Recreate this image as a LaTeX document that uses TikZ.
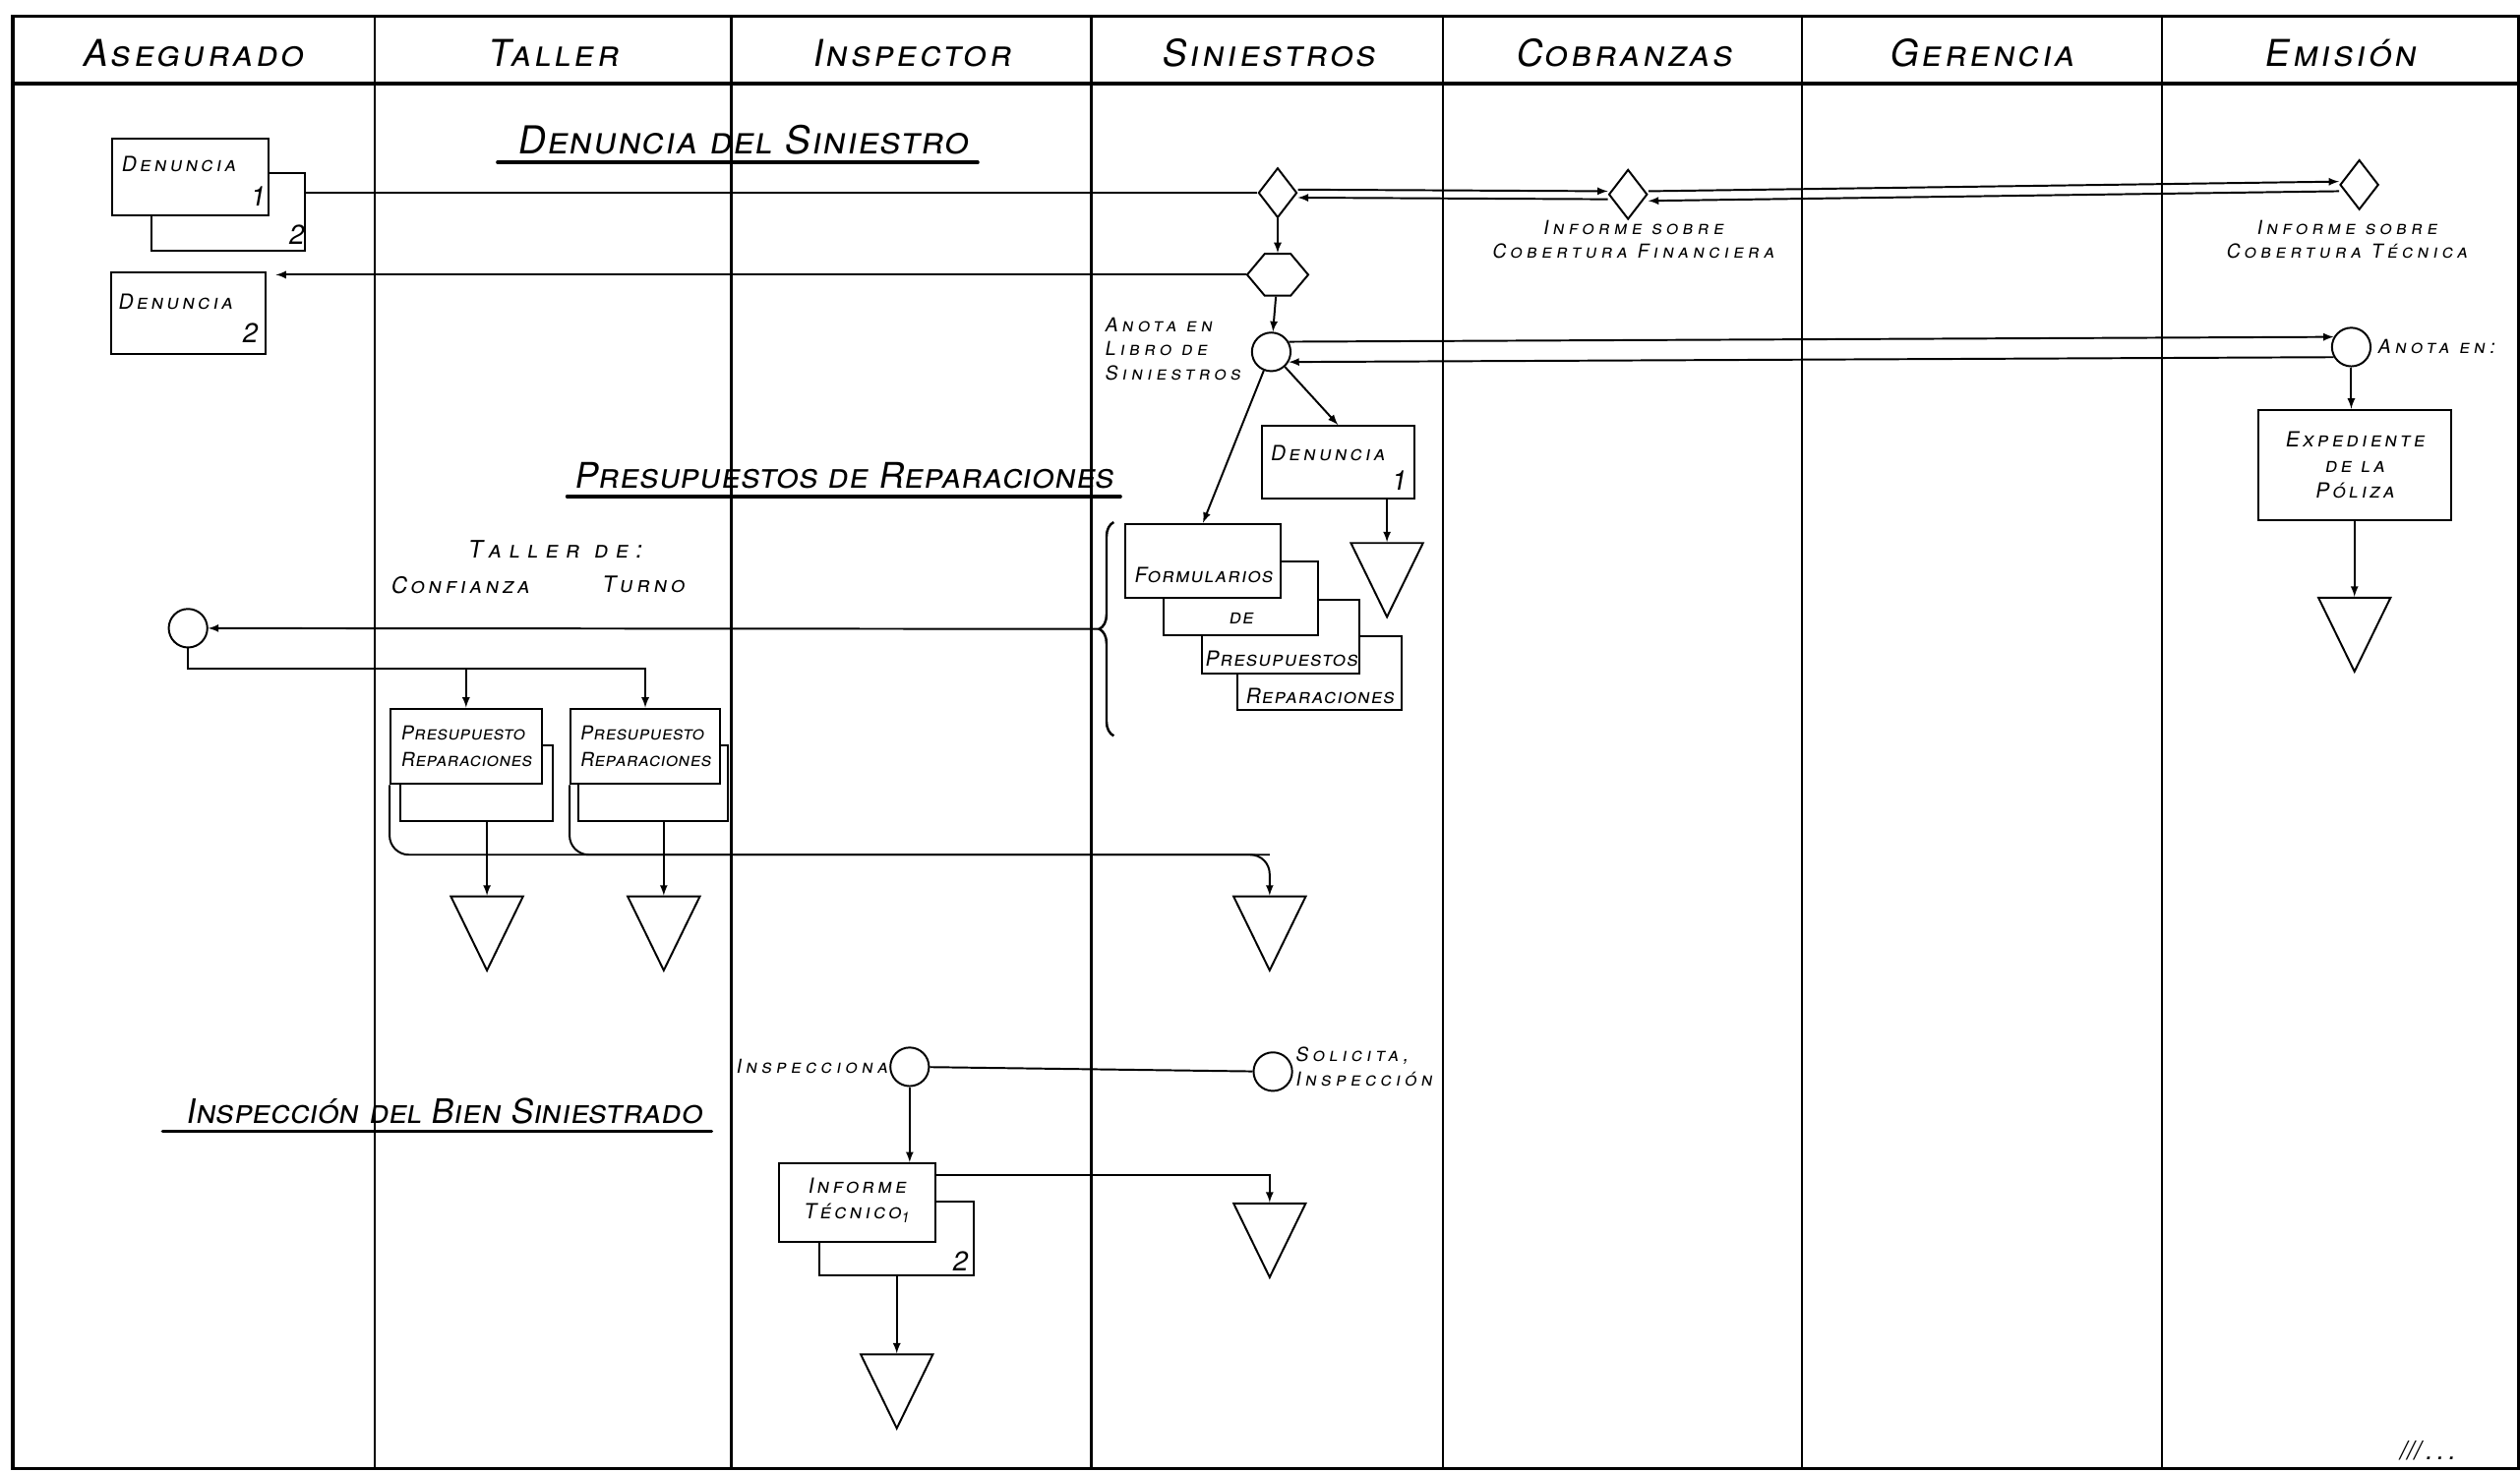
\documentclass[tikz,border=0pt]{standalone}
\usepackage{fontspec}
\newfontfamily\handfont{TeX Gyre Heros}[Letters=SmallCaps,FakeSlant=0.18]
\usetikzlibrary{shapes.geometric,shapes.symbols,decorations.pathreplacing}
\newcommand{\bignum}[1]{{\fontsize{17}{17}\selectfont #1}}

\begin{document}
\begin{tikzpicture}
[x=1pt,y=-1pt,>=latex,
  frameLine/.style={line width=2.2pt},
  laneLine/.style={line width=1.4pt},
  flowLine/.style={-,line width=1.2pt},
  flowArrow/.style={->,line width=1.2pt},
  underLine/.style={line width=2pt,line cap=round},
  headText/.style={font=\handfont\fontsize{23}{23}\selectfont\addfontfeature{LetterSpace=8}},
  titleText/.style={font=\handfont\fontsize{#1}{#1}\selectfont,inner sep=0pt},
  noteText/.style={font=\handfont\fontsize{12}{15}\selectfont\addfontfeature{LetterSpace=22},inner sep=1pt,align=center},
  labelText/.style={font=\handfont\fontsize{14}{16}\selectfont\addfontfeature{LetterSpace=16},inner sep=1pt},
  boxText/.style={font=\handfont\fontsize{13}{16}\selectfont\addfontfeature{LetterSpace=15},inner sep=0pt},
  formText/.style={font=\handfont\fontsize{13}{16}\selectfont\addfontfeature{LetterSpace=5},inner sep=0pt},
  tightText/.style={font=\handfont\fontsize{12}{16}\selectfont\addfontfeature{LetterSpace=2},inner sep=0pt},
  docBox/.style={shape=rectangle,draw,fill=white,line width=1.2pt,inner sep=0pt},
  opCircle/.style={shape=circle,draw,line width=1.2pt,minimum size=24pt,inner sep=0pt},
  checkDiamond/.style={shape=diamond,draw,line width=1.2pt,minimum width=24pt,minimum height=31pt,inner sep=0pt},
  hexNode/.style={shape=signal,signal to=east and west,signal pointer angle=100,draw,line width=1.2pt,minimum width=38pt,minimum height=26pt,inner sep=0pt},
  fileTri/.style={shape=isosceles triangle,shape border rotate=-90,isosceles triangle apex angle=52,draw,line width=1.2pt,minimum height=46pt,inner sep=0pt}]
\useasboundingbox (0,0) rectangle (1568,916);
%% frame and lanes
\draw[frameLine] (8,10) rectangle (1567,914);
\draw[frameLine] (8,52) -- (1567,52);
\foreach \x in {233,455,679,898,1121,1345}
{
  \draw[laneLine] (\x,10) -- (\x,914);
}
\foreach \i/\lname/\x in {1/Asegurado/120, 2/Taller/344, 3/Inspector/567,
  4/Siniestros/789, 5/Cobranzas/1010, 6/Gerencia/1233, 7/Emisión/1456}
{
  \node (head\i) at (\x,33) [headText] {\lname};
}

%% Denuncia del Siniestro
\node (tDen) at (462,96) [titleText=24,anchor=base] {\addfontfeature{LetterSpace=3}Denuncia del Siniestro};
\draw[underLine] ([xshift=-12pt,yshift=-5pt]tDen.base west) -- ([xshift=6pt,yshift=-5pt]tDen.base east);
\node (denA2copy) at (142,132) [docBox,minimum width=96pt,minimum height=48pt] {};
\node (denA2num) at (184,146) [boxText] {\bignum{2}};
\node (denA1) at (118.5,110) [docBox,minimum width=97pt,minimum height=48pt] {};
\node (denA1txt) at (75,102) [boxText,anchor=west] {Denuncia};
\node (denA1num) at (160,122) [boxText] {\bignum{1}};
\node (denB) at (117,195) [docBox,minimum width=96pt,minimum height=51pt] {};
\node (denBtxt) at (73,188) [boxText,anchor=west] {Denuncia};
\node (denBnum) at (155,207) [boxText] {\bignum{2}};
\node (dSin) at (795,120) [checkDiamond] {};
\node (dCob) at (1013,121) [checkDiamond] {};
\node (dEmi) at (1468,115) [checkDiamond] {};
\node (infoCob) at (1016,149) [noteText] {Informe sobre\\Cobertura Financiera};
\node (infoEmi) at (1460,149) [noteText] {Informe sobre\\Cobertura Técnica};
\node (hexSin) at (795,171) [hexNode] {};
\node (cSin) at (791,219) [opCircle] {};
\node (cSinTxt) at (686,217) [noteText,anchor=west,align=left] {Anota en\\Libro de\\Siniestros};
\node (cEmi) at (1463,216) [opCircle] {};
\node (cEmiTxt) at (1478,216) [noteText,anchor=west] {Anota en:};
\node (expBox) at (1465,289.5) [docBox,boxText,align=center,minimum width=120pt,minimum height=69pt] {Expediente\\de la\\Póliza};
\node (triEmi) at (1465,386) [fileTri] {};
\node (denC) at (832.5,287.5) [docBox,minimum width=95pt,minimum height=45pt] {};
\node (denCtxt) at (790,282) [boxText,anchor=west] {Denuncia};
\node (denCnum) at (870,299) [boxText] {\bignum{1}};
\node (triDen) at (863,352) [fileTri] {};
\draw[flowLine] (denA2copy.east |- dSin) -- (dSin);
\draw[flowArrow] ([yshift=2pt]dSin.east) -- ([yshift=2pt]dCob.west);
\draw[flowArrow] ([yshift=-3pt]dCob.west) -- ([yshift=-3pt]dSin.east);
\draw[flowArrow] ([yshift=2pt]dCob.east) -- ([yshift=2pt]dEmi.west);
\draw[flowArrow] ([yshift=-4pt]dEmi.west) -- ([yshift=-4pt]dCob.east);
\draw[flowArrow] (dSin) -- (hexSin);
\draw[flowArrow,shorten >=6pt] (hexSin) -- (hexSin -| denB.east);
\draw[flowArrow] (hexSin) -- (cSin);
\draw[flowArrow] (cSin.30) -- (cEmi.150);
\draw[flowArrow] (cEmi.210) -- (cSin.-30);
\draw[flowArrow] (cEmi) -- (cEmi |- expBox.north);
\draw[flowArrow] (expBox) -- (triEmi);
\draw[flowArrow] (cSin) -- (denC.north);
\draw[flowArrow] (triDen |- denC.south) -- (triDen);

%% Presupuestos de Reparaciones
\node (tPre) at (525,304) [titleText=22,anchor=base] {\addfontfeature{LetterSpace=1}Presupuestos de Reparaciones};
\draw[underLine] ([xshift=-4pt,yshift=-5pt]tPre.base west) -- ([xshift=4pt,yshift=-5pt]tPre.base east);
\foreach \n/\x/\y/\w/\ty/\txt in {4/821/419/102/433/Reparaciones,
  3/797/396.5/98/410/Presupuestos, 2/772/372.5/96/385/de, 1/748.5/349/97/358/Formularios}
{
  \node (form\n) at (\x,\y) [docBox,minimum width=\w,minimum height=46pt] {};
  \node (form\n txt) at (\x,\ty) [formText] {\txt};
}
\draw[flowArrow] (cSin) -- (form1.north);
\draw[flowLine,line width=1.5pt,decorate,decoration={brace,amplitude=9pt}] (693,458) -- (693,325);
\coordinate (braceTip) at (684,391.5);
\node (cAseg) at (117,391) [opCircle] {};
\draw[flowArrow] (braceTip) -- (cAseg);
\node (tallerDe) at (345,342) [labelText,font=\handfont\fontsize{15}{16}\selectfont\addfontfeature{LetterSpace=30}] {Taller de:};
\node (confianza) at (286,364) [labelText] {Confianza};
\node (turno) at (400,364) [labelText] {Turno};
\node (p1copy) at (296.5,487.5) [docBox,minimum width=95pt,minimum height=47pt] {};
\node (p1) at (290,464.5) [docBox,tightText,align=left,minimum width=94pt,minimum height=47pt] {Presupuesto\\Reparaciones};
\node (p2copy) at (406.5,487.5) [docBox,minimum width=93pt,minimum height=47pt] {};
\node (p2) at (401.5,464.5) [docBox,tightText,align=left,minimum width=93pt,minimum height=47pt] {Presupuesto\\Reparaciones};
\coordinate (splitY) at (117,416);
\draw[flowArrow] (cAseg) |- (p2.north |- splitY) -- (p2.north);
\draw[flowArrow] (p1.north |- splitY) -- (p1.north);
\node (triT1) at (303,572) [fileTri] {};
\node (triT2) at (413,572) [fileTri] {};
\node (triS) at (790,572) [fileTri] {};
\draw[flowArrow] (triT1 |- p1copy.south) -- (triT1);
\draw[flowArrow] (triT2 |- p2copy.south) -- (triT2);
\coordinate (joinY) at (0,532);
\draw[flowArrow,rounded corners=12pt] (p1.south west) |- (triS |- joinY) -- (triS);
\draw[flowLine,rounded corners=12pt] (p2.south west) |- (triS |- joinY);

%% Inspeccion del Bien Siniestrado
\node (tIns) at (276,699) [titleText=21,anchor=base] {Inspección del Bien Siniestrado};
\draw[underLine] ([xshift=-14pt,yshift=-5pt]tIns.base west) -- ([xshift=6pt,yshift=-5pt]tIns.base east);
\node (cIns) at (566,664) [opCircle] {};
\node (cInsTxt) at (cIns.west) [noteText,anchor=east] {Inspecciona};
\node (cSol) at (792,667) [opCircle] {};
\node (cSolTxt) at ([yshift=3pt]cSol.east) [noteText,anchor=west,align=left] {Solicita,\\Inspección};
\draw[flowLine] (cSol) -- (cIns);
\node (infCopy) at (558,771) [docBox,minimum width=96pt,minimum height=46pt] {};
\node (infNum) at (597,785) [boxText] {\bignum{2}};
\node (infBox) at (533.5,748.5) [docBox,minimum width=97pt,minimum height=49pt] {};
\node (infTxt) at (533,747) [boxText,align=center] {Informe\\Técnico\textsubscript{1}};
\draw[flowArrow] (cIns) -- (cIns |- infBox.north);
\node (triIns) at (790,763) [fileTri] {};
\draw[flowArrow] ([yshift=-8pt]infBox.north east) -| (triIns);
\node (triB) at (558,857) [fileTri] {};
\draw[flowArrow] (triB |- infCopy.south) -- (triB);
\node (contMark) at (1510,903) [font=\handfont\fontsize{16}{16}\selectfont] {///\,.\,.\,.};
\end{tikzpicture}
\end{document}
